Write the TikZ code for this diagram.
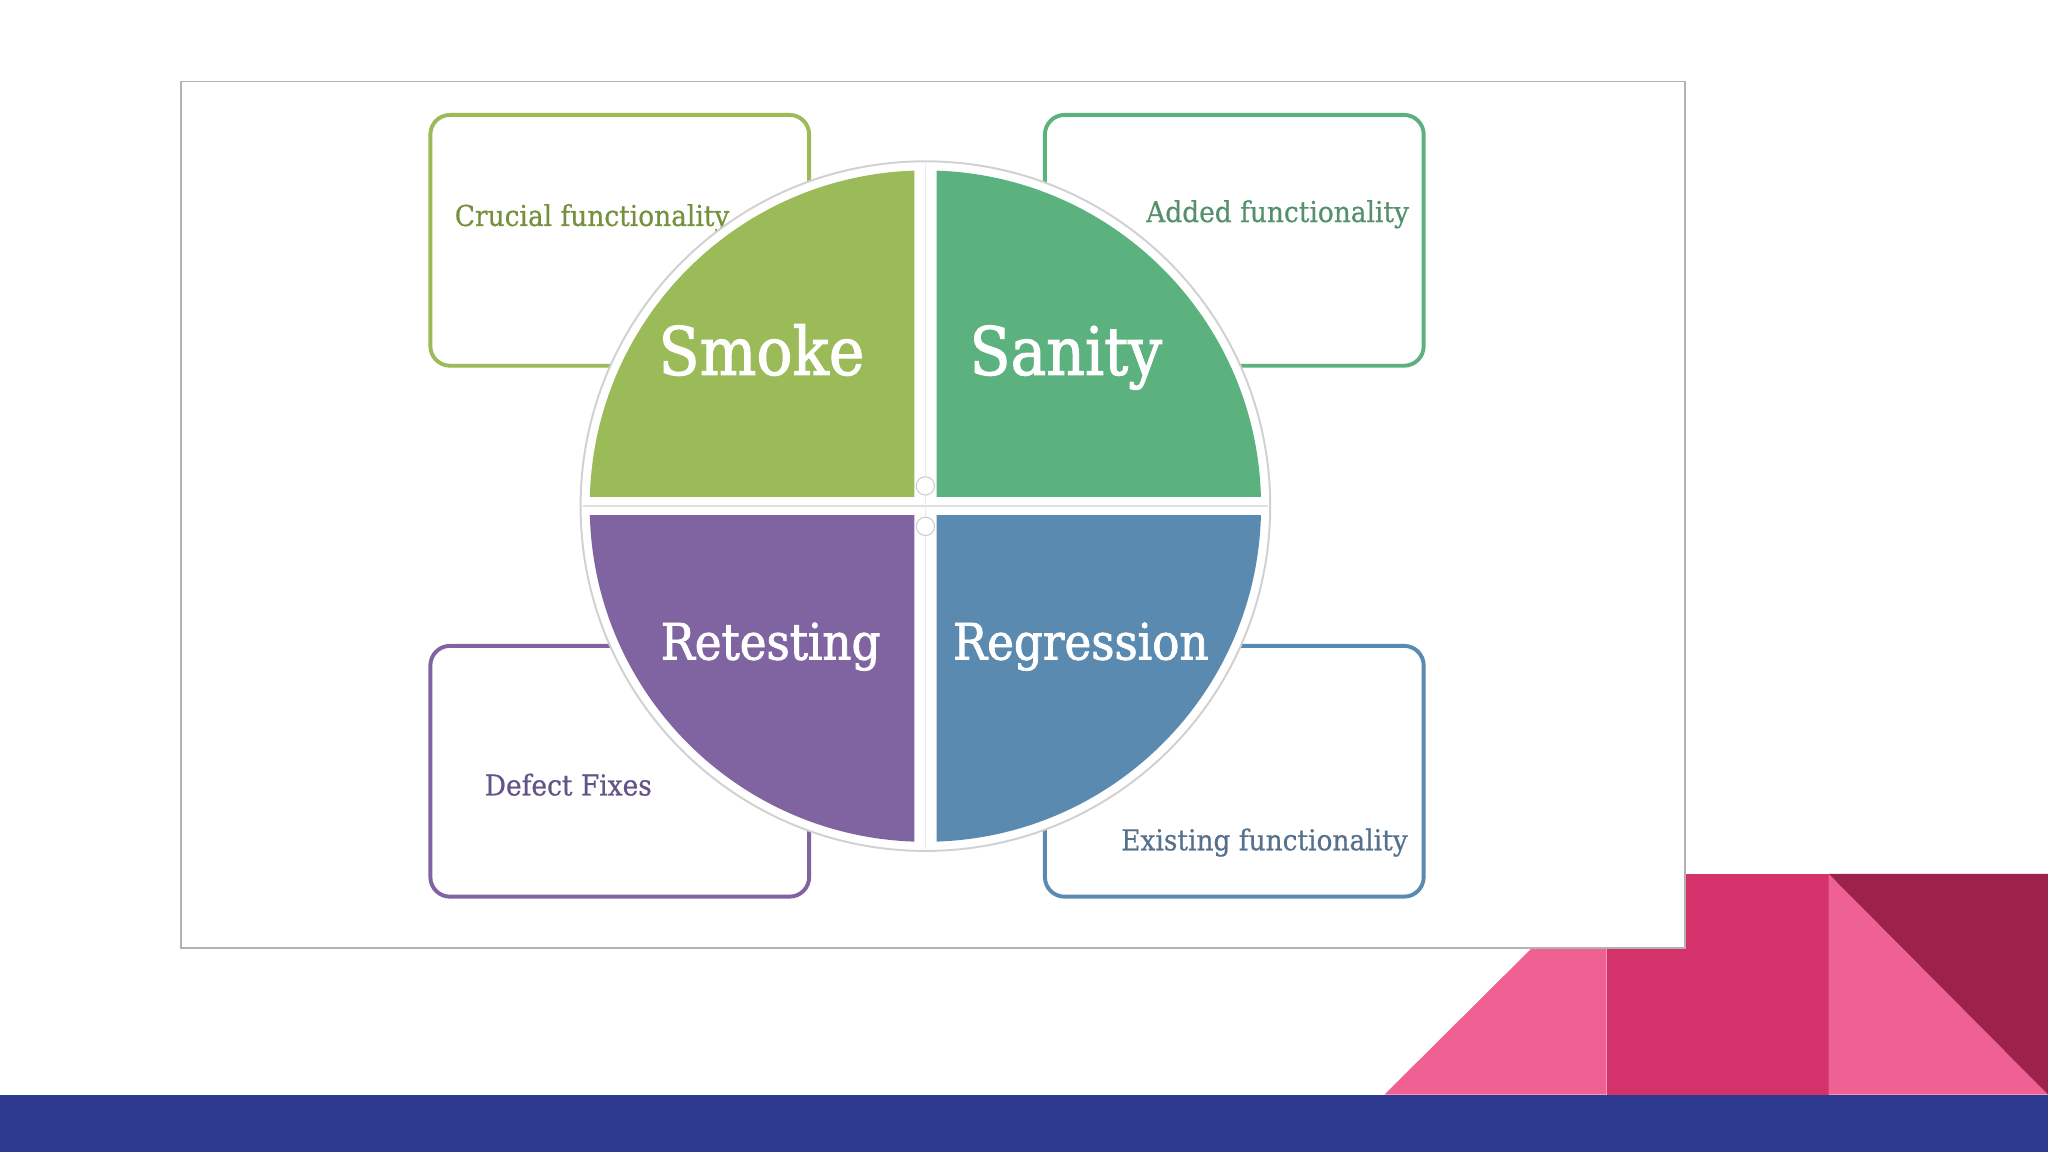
\documentclass[tikz,border=0pt]{standalone}
\usepackage{fontspec}
\newfontfamily\slab[FakeStretch=0.92]{DejaVu Serif}
\newfontfamily\slabheavy[FakeStretch=0.9,FakeBold=1.6]{DejaVu Serif}
\newfontfamily\slabmid[FakeStretch=0.92,FakeBold=0.6]{DejaVu Serif}
\definecolor{smoke}{HTML}{9BBB59}
\definecolor{sanity}{HTML}{5BB27E}
\definecolor{retest}{HTML}{8064A2}
\definecolor{regress}{HTML}{5B8AB0}
\definecolor{tsmoke}{HTML}{74913C}
\definecolor{tsanity}{HTML}{55906C}
\definecolor{tretest}{HTML}{625487}
\definecolor{tregress}{HTML}{56718D}
\definecolor{band}{HTML}{2D3A8F}
\definecolor{lpink}{HTML}{EF6093}
\definecolor{crimson}{HTML}{D3336A}
\definecolor{maroon}{HTML}{9C224C}
\tikzset{
  sidebox/.style={draw, line width=3pt, rounded corners=15pt, fill=white,
    minimum width=290pt, minimum height=192pt, inner sep=0pt},
  biglbl/.style={text=white, font=\slabheavy\fontsize{51}{60}\selectfont, inner sep=0pt},
  midlbl/.style={text=white, font=\slabheavy\fontsize{38.5}{46}\selectfont, inner sep=0pt},
  smalllbl/.style={font=\slabmid\fontsize{22}{26}\selectfont, inner sep=0pt},
}
\begin{document}
\begin{tikzpicture}[x=1pt,y=-1pt]
\useasboundingbox (0,0) rectangle (1568,882);
\fill[white] (0,0) rectangle (1568,882);
% decorative corner shapes
\fill[lpink] (1060,838) -- (1230,669) -- (1230,838) -- cycle;
\fill[crimson] (1230,669) rectangle (1400,838);
\fill[lpink] (1400,669) -- (1568,838) -- (1400,838) -- cycle;
\fill[maroon] (1400,669) -- (1568,669) -- (1568,838) -- cycle;
\fill[band] (0,838) rectangle (1568,882);
% frame
\draw[fill=white, draw=black!30, line width=1.2pt] (138.5,62.5) rectangle (1290,726);
% side boxes
\node[sidebox, draw=smoke] (b1) at (474.5,184) {};
\node[sidebox, draw=sanity] (b2) at (945,184) {};
\node[sidebox, draw=retest] (b3) at (474.5,590.5) {};
\node[sidebox, draw=regress] (b4) at (945,590.5) {};
\node[smalllbl, text=tsmoke, anchor=base west] (t1) at (348,173) {Crucial functionality};
\node[smalllbl, text=tsanity, anchor=base east] (t2) at (1079,170) {Added functionality};
\node[smalllbl, text=tretest, anchor=base west] (t3) at (371,609) {Defect Fixes};
\node[smalllbl, text=tregress, anchor=base east] (t4) at (1078,651) {Existing functionality};
% circle
\coordinate (c) at (708.5,387.5);
\draw[fill=white, draw=black!18, line width=1.5pt] (c) circle[radius=264];
\begin{scope}
  \clip (420,100) rectangle (700,380);
  \fill[smoke] (c) circle[radius=257];
\end{scope}
\begin{scope}
  \clip (717,100) rectangle (1000,380);
  \fill[sanity] (c) circle[radius=257];
\end{scope}
\begin{scope}
  \clip (420,395) rectangle (700,680);
  \fill[retest] (c) circle[radius=257];
\end{scope}
\begin{scope}
  \clip (717,395) rectangle (1000,680);
  \fill[regress] (c) circle[radius=257];
\end{scope}
\draw[black!12, line width=1pt] (446,387.5) -- (971,387.5);
\draw[black!8, line width=0.8pt] (708.5,125) -- (708.5,650);
\fill[white, draw=black!20, line width=0.8pt] (708.5,372) circle[radius=7];
\fill[white, draw=black!20, line width=0.8pt] (708.5,403) circle[radius=7];
% quadrant labels
\node[biglbl, anchor=base] (l1) at (583,287) {Smoke};
\node[biglbl, anchor=base] (l2) at (816,287) {Sanity};
\node[midlbl, anchor=base] (l3) at (590,505) {Retesting};
\node[midlbl, anchor=base] (l4) at (827.5,505) {Regression};
\end{tikzpicture}
\end{document}
